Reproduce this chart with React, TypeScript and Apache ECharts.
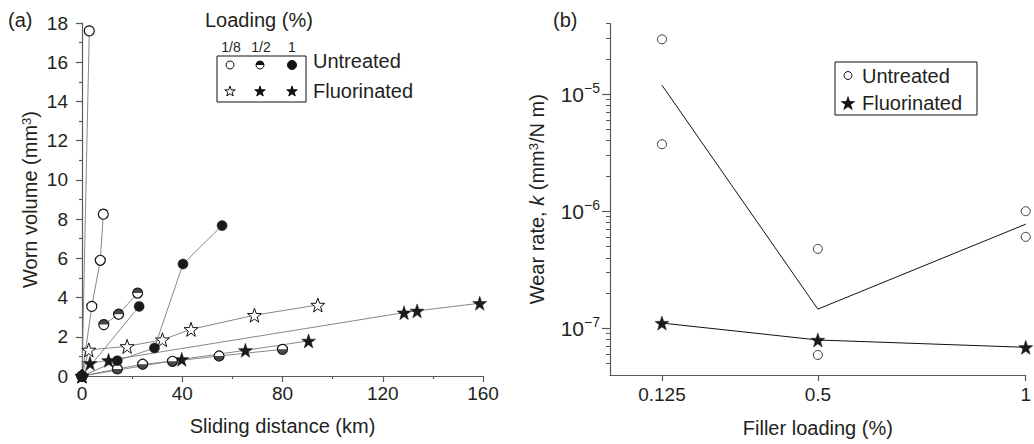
import React, { useEffect, useRef } from "react";
import * as echarts from "echarts";

// ---------- Panel (a): worn volume (mm^3) vs sliding distance (km) ----------
const distanceTicks = [0, 40, 80, 120, 160];
const volumeTicks = [0, 2, 4, 6, 8, 10, 12, 14, 16, 18];

const untreatedEighthA = [[0, 0], [2.9, 17.6]];
const untreatedEighthB = [[0, 0], [3.9, 3.55], [7.3, 5.9], [8.5, 8.25]];
const untreatedHalfA = [[8.7, 2.62], [14.6, 3.15], [22.2, 4.23]];
const untreatedHalfB = [[0, 0], [14.1, 0.36], [24.2, 0.6], [36.1, 0.75], [54.7, 1.02], [80, 1.36]];
const untreatedOneA = [[0, 0], [14.1, 0.78], [28.9, 1.43], [40.3, 5.71], [55.9, 7.67]];
const untreatedOneB = [[0, 0], [22.8, 3.55]];
const fluorinatedEighth = [[0, 0], [2.7, 1.33], [18, 1.51], [32.1, 1.85], [43.5, 2.38], [68.8, 3.1], [94.1, 3.62]];
const fluorinatedHalf = [[0, 0], [3.2, 0.65], [10.6, 0.8], [128.5, 3.23], [133.7, 3.32], [158.7, 3.71]];
const fluorinatedOne = [[0, 0], [39.8, 0.85], [65.2, 1.31], [90.4, 1.79]];

// ---------- Panel (b): wear rate vs filler loading ----------
const fillerLoadings = [0.125, 0.5, 1];
const untreatedRateX = [0.125, 0.125, 0.5, 0.5, 1, 1];
const untreatedRate = [2.93e-5, 3.73e-6, 4.77e-7, 5.93e-8, 1.0e-6, 6.04e-7];
const untreatedTrend = [1.19e-5, 1.46e-7, 7.75e-7];
const fluorinatedRate = [1.11e-7, 7.96e-8, 6.89e-8];
const rateMajorTicks = [1e-7, 1e-6, 1e-5];
const rateMinorTicks = [
  5e-8, 6e-8, 7e-8, 8e-8, 9e-8,
  2e-7, 3e-7, 4e-7, 5e-7, 6e-7, 7e-7, 8e-7, 9e-7,
  2e-6, 3e-6, 4e-6, 5e-6, 6e-6, 7e-6, 8e-6, 9e-6,
  2e-5, 3e-5, 4e-5,
];

const STAR_D =
  "M10,0L12.35,6.76L19.51,6.91L13.8,11.24L15.88,18.09L10,14L4.12,18.09L6.2,11.24L0.49,6.91L7.65,6.76Z";
const STAR = "path://" + STAR_D;
const HALF_TOP = "path://M0,10A10,10 0 0 1 20,10Z";
const HALF_BOTTOM = "path://M0,0A10,10 0 0 0 20,0Z";

echarts.graphic.registerShape("star5", echarts.graphic.extendPath(STAR_D, {}));

const FONT = "Liberation Sans";
const TXT = "#231f20";
const AX = "#58595b";

export default function App() {
  const ref = useRef<HTMLDivElement>(null);
  useEffect(() => {
    if (!ref.current) return;
    const chart = echarts.init(ref.current, null, { renderer: "svg" });

    const thin = { color: "#7a7a7a", width: 0.9 };
    const openCircle = { color: "#fff", borderColor: "#111", borderWidth: 1.2 };
    const filled = { color: "#1a1a1a", borderColor: "#1a1a1a", borderWidth: 0.5 };
    const openStar = { color: "#fff", borderColor: "#111", borderWidth: 1 };

    const leftLine = (data: number[][], symbol: string, size: number, itemStyle: any) => ({
      type: "line",
      xAxisIndex: 0,
      yAxisIndex: 0,
      data,
      symbol,
      symbolSize: size,
      showSymbol: true,
      itemStyle,
      lineStyle: thin,
      silent: true,
    });
    const halfOverlay = (data: number[][], top: boolean) => ({
      type: "scatter",
      xAxisIndex: 0,
      yAxisIndex: 0,
      data,
      symbol: top ? HALF_TOP : HALF_BOTTOM,
      symbolSize: [10, 5],
      symbolOffset: [0, top ? -2.5 : 2.5],
      itemStyle: { color: "#1a1a1a" },
      z: 3,
      silent: true,
    });

    const star = (cx: number, cy: number, size: number, fill: string) => {
      const s = size / 20;
      return {
        type: "star5",
        x: cx - 10 * s,
        y: cy - 9 * s,
        scaleX: s,
        scaleY: s,
        style: { fill, stroke: "#111", lineWidth: 1 / s },
      };
    };
    const text = (x: number, y: number, t: string, size: number, align = "left") => ({
      type: "text",
      x,
      y,
      style: { text: t, fontSize: size, fontFamily: FONT, fill: TXT, align, verticalAlign: "middle" },
    });

    const supFmt = (v: number) => {
      const e = Math.round(Math.log10(v));
      return "{b|10}{s|\u2212" + Math.abs(e) + "}";
    };

    chart.setOption({
      animation: false,
      textStyle: { fontFamily: FONT, color: TXT },
      grid: [
        { left: 82, right: 551, top: 23, bottom: 68 },
        { left: 610, right: 7, top: 23.5, bottom: 69 },
      ],
      xAxis: [
        {
          gridIndex: 0,
          type: "value",
          min: distanceTicks[0],
          max: distanceTicks[distanceTicks.length - 1],
          interval: distanceTicks[1] - distanceTicks[0],
          name: "Sliding distance (km)",
          nameLocation: "middle",
          nameGap: 40,
          nameTextStyle: { fontSize: 20, color: TXT, fontFamily: FONT },
          axisLine: { lineStyle: { color: AX, width: 1.2 } },
          axisTick: { length: 6, lineStyle: { color: AX, width: 1.2 } },
          minorTick: { show: true, splitNumber: 2, length: 3, lineStyle: { color: AX, width: 1.2 } },
          axisLabel: { fontSize: 19, color: TXT, margin: 8 },
          splitLine: { show: false },
        },
        {
          gridIndex: 1,
          type: "value",
          min: 0,
          max: 1,
          name: "Filler loading (%)",
          nameLocation: "middle",
          nameGap: 43,
          nameTextStyle: { fontSize: 20, color: TXT, fontFamily: FONT },
          axisLine: { lineStyle: { color: AX, width: 1.2 } },
          axisTick: { customValues: fillerLoadings, length: 6, lineStyle: { color: AX, width: 1.2 } },
          axisLabel: {
            customValues: fillerLoadings,
            fontSize: 19,
            color: TXT,
            margin: 10,
            formatter: (v: number) => String(v),
          },
          splitLine: { show: false },
        },
      ],
      yAxis: [
        {
          gridIndex: 0,
          type: "value",
          min: volumeTicks[0],
          max: volumeTicks[volumeTicks.length - 1],
          interval: volumeTicks[1] - volumeTicks[0],
          name: "Worn volume (mm{sup|3})",
          nameLocation: "middle",
          nameGap: 42,
          nameRotate: 90,
          nameTextStyle: {
            fontSize: 20,
            color: TXT,
            fontFamily: FONT,
            rich: { sup: { fontSize: 13, verticalAlign: "top", color: TXT, fontFamily: FONT } },
          },
          axisLine: { show: true, lineStyle: { color: AX, width: 1.2 } },
          axisTick: { show: true, length: 6, lineStyle: { color: AX, width: 1.2 } },
          minorTick: { show: true, splitNumber: 2, length: 3, lineStyle: { color: AX, width: 1.2 } },
          axisLabel: { fontSize: 19, color: TXT, margin: 14 },
          splitLine: { show: false },
        },
        {
          gridIndex: 1,
          type: "log",
          logBase: 10,
          position: "left",
          min: 4e-8,
          max: 4e-5,
          name: "Wear rate, {i|k} (mm{sup|3}/N m)",
          nameLocation: "middle",
          nameGap: 63,
          nameRotate: 90,
          nameTextStyle: {
            fontSize: 20,
            color: TXT,
            fontFamily: FONT,
            rich: {
              sup: { fontSize: 13, verticalAlign: "top", color: TXT, fontFamily: FONT },
              i: { fontSize: 20, fontStyle: "italic", color: TXT, fontFamily: FONT },
            },
          },
          axisLine: { show: true, lineStyle: { color: AX, width: 1.2 } },
          axisTick: { show: true, customValues: rateMajorTicks, length: 8, lineStyle: { color: AX, width: 1.2 } },
          axisLabel: {
            customValues: rateMajorTicks,
            margin: 10,
            formatter: supFmt,
            rich: {
              b: { fontSize: 21, color: TXT, fontFamily: FONT, lineHeight: 26 },
              s: { fontSize: 14, color: TXT, fontFamily: FONT, verticalAlign: "top" },
            },
          },
          splitLine: { show: false },
        },
        {
          gridIndex: 1,
          type: "log",
          logBase: 10,
          position: "left",
          offset: 0,
          min: 4e-8,
          max: 4e-5,
          axisLine: { show: false },
          axisTick: { show: true, customValues: rateMinorTicks, length: 4, lineStyle: { color: AX, width: 1 } },
          axisLabel: { show: false },
          splitLine: { show: false },
        },
      ],
      series: [
        leftLine(untreatedEighthA, "circle", 10, openCircle),
        leftLine(untreatedEighthB, "circle", 10, openCircle),
        leftLine(fluorinatedEighth, STAR, 14, openStar),
        leftLine(fluorinatedHalf, STAR, 14, filled),
        leftLine(fluorinatedOne, STAR, 14, filled),
        leftLine(untreatedHalfA, "circle", 10, openCircle),
        halfOverlay(untreatedHalfA, true),
        leftLine(untreatedHalfB, "circle", 10, openCircle),
        halfOverlay(untreatedHalfB, false),
        leftLine(untreatedOneB, "circle", 10, filled),
        leftLine(untreatedOneA, "circle", 10, filled),
        {
          type: "line",
          xAxisIndex: 1,
          yAxisIndex: 1,
          data: fillerLoadings.map((x, i) => [x, untreatedTrend[i]]),
          symbol: "none",
          lineStyle: { color: "#111", width: 1 },
          silent: true,
        },
        {
          type: "scatter",
          xAxisIndex: 1,
          yAxisIndex: 1,
          data: untreatedRateX.map((x, i) => [x, untreatedRate[i]]),
          symbol: "circle",
          symbolSize: 9,
          itemStyle: { color: "#fff", borderColor: "#111", borderWidth: 1 },
          silent: true,
        },
        {
          type: "line",
          xAxisIndex: 1,
          yAxisIndex: 1,
          data: fillerLoadings.map((x, i) => [x, fluorinatedRate[i]]),
          symbol: STAR,
          symbolSize: 14,
          showSymbol: true,
          itemStyle: { color: "#1a1a1a", borderColor: "#1a1a1a", borderWidth: 0.5 },
          lineStyle: { color: "#111", width: 1 },
          silent: true,
        },
      ],
      graphic: [
        text(8, 20, "(a)", 20),
        text(553, 20, "(b)", 20),
        // legend (a)
        text(205, 20, "Loading (%)", 20),
        text(231, 47, "1/8", 14, "center"),
        text(261, 47, "1/2", 14, "center"),
        text(292, 47, "1", 14, "center"),
        { type: "rect", shape: { x: 217, y: 56, width: 89, height: 46 }, style: { fill: "none", stroke: "#111", lineWidth: 1 } },
        { type: "circle", shape: { cx: 230, cy: 65, r: 4 }, style: { fill: "#fff", stroke: "#111", lineWidth: 1 } },
        { type: "circle", shape: { cx: 260, cy: 65, r: 4 }, style: { fill: "#fff", stroke: "#111", lineWidth: 1 } },
        { type: "sector", shape: { cx: 260, cy: 65, r: 4, r0: 0, startAngle: Math.PI, endAngle: 2 * Math.PI }, style: { fill: "#111" } },
        { type: "circle", shape: { cx: 292, cy: 65, r: 4.5 }, style: { fill: "#111", stroke: "#111", lineWidth: 1 } },
        star(230, 91, 11, "#fff"),
        star(260, 91, 11, "#111"),
        star(292, 91, 11, "#111"),
        text(313, 61, "Untreated", 20),
        text(313, 91, "Fluorinated", 20),
        // legend (b)
        { type: "rect", shape: { x: 835, y: 62, width: 142, height: 53 }, style: { fill: "none", stroke: "#111", lineWidth: 1 } },
        { type: "circle", shape: { cx: 848, cy: 75.5, r: 4 }, style: { fill: "#fff", stroke: "#111", lineWidth: 1 } },
        star(848, 103, 13, "#111"),
        text(862, 75.5, "Untreated", 20),
        text(862, 103, "Fluorinated", 20),
      ],
    });
    return () => chart.dispose();
  }, []);
  return (
    <div
      ref={ref}
      style={{ position: "fixed", left: 0, top: 0, width: 1034, height: 444, background: "#fff" }}
    />
  );
}
